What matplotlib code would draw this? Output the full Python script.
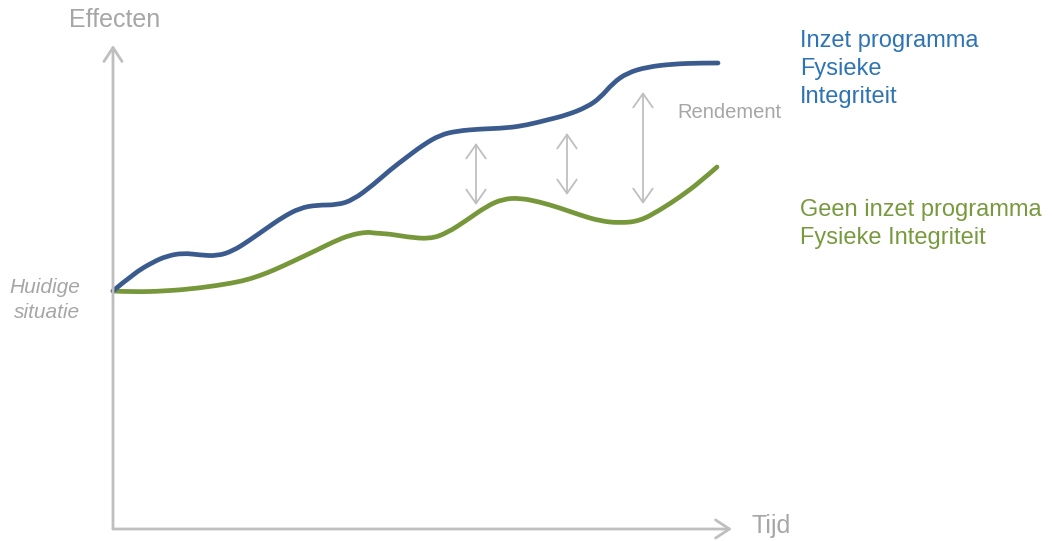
"""Concept chart: effects over time with and without the programme."""

import matplotlib.pyplot as plt
import numpy as np
from matplotlib.path import Path
from matplotlib.patches import PathPatch

plt.rcParams["font.family"] = ["Liberation Sans", "DejaVu Sans"]

# Curve readings (time, effect) from the picture
blue_t = [0, 20, 40, 54, 70, 87, 104, 120, 137, 154, 170, 187, 204, 224,
          240, 260, 277, 294, 310, 327, 344, 367, 394, 414, 434, 454, 474,
          487, 500, 514, 534, 560, 587, 605]
blue_e = [238, 255, 267, 273, 276, 274, 273, 278, 289, 301, 312, 321, 324, 324,
          329, 344, 359, 372, 384, 394, 398, 400, 401, 404, 409, 414, 422,
          431, 446, 456, 462, 465, 466, 466]

green_t = [0, 20, 54, 87, 120, 137, 154, 170, 187, 204, 220, 237, 254, 260,
           277, 294, 317, 334, 354, 374, 390, 407, 427, 447, 467, 487, 507,
           527, 547, 567, 587, 604]
green_e = [238, 237, 238, 241, 246, 250, 256, 263, 271, 279, 287, 294, 297, 296,
           295, 292, 290, 296, 309, 323, 330, 331, 327, 321, 314, 308, 306,
           308, 319, 332, 347, 362]

# "Rendement" gap arrows: time, lower effect, upper effect
gap_t = [363, 454, 530]
gap_low = [324, 334, 325]
gap_high = [386, 396, 437]

AXIS_GREY = "#bfbfbf"
TEXT_GREY = "#a6a6a6"
BLUE_LINE = "#3b5b8e"
GREEN_LINE = "#76973a"
BLUE_TEXT = "#2e74b5"
GREEN_TEXT = "#789a3e"


def smooth_path(xs, ys):
    """Quadratic bezier path through midpoints, using the read points as controls."""
    pts = np.column_stack([xs, ys]).astype(float)
    verts = [pts[0]]
    codes = [Path.MOVETO]
    for i in range(1, len(pts) - 1):
        mid = (pts[i] + pts[i + 1]) / 2
        if i == len(pts) - 2:
            mid = pts[i + 1]
        verts += [pts[i], mid]
        codes += [Path.CURVE3, Path.CURVE3]
    return Path(verts, codes)


fig = plt.figure(figsize=(10.52, 5.41), dpi=100)
ax = fig.add_axes([0, 0, 1, 1])
ax.set_xlim(-113, 939)
ax.set_ylim(-12, 529)
ax.axis("off")

# axes with open arrow heads
axis_style = "->,head_length=1.0,head_width=0.65"
ax.annotate("", xy=(0, 484), xytext=(0, 0),
            arrowprops=dict(arrowstyle=axis_style, color=AXIS_GREY, lw=2,
                            shrinkA=0, shrinkB=0))
ax.annotate("", xy=(619, 0), xytext=(0, 0),
            arrowprops=dict(arrowstyle=axis_style, color=AXIS_GREY, lw=2,
                            shrinkA=0, shrinkB=0))

ax.add_patch(PathPatch(smooth_path(green_t, green_e), facecolor="none",
                       edgecolor=GREEN_LINE, lw=3.4, capstyle="round"))
ax.add_patch(PathPatch(smooth_path(blue_t, blue_e), facecolor="none",
                       edgecolor=BLUE_LINE, lw=3.4, capstyle="round"))

for t, lo, hi in zip(gap_t, gap_low, gap_high):
    ax.annotate("", xy=(t, hi), xytext=(t, lo),
                arrowprops=dict(arrowstyle="<->,head_length=1.0,head_width=0.7",
                                color=AXIS_GREY, lw=1.3, shrinkA=0, shrinkB=0))

ax.text(2, 509, "Effecten", color=TEXT_GREY, fontsize=18,
        ha="center", va="center")
ax.text(639, 3, "Tijd", color=TEXT_GREY, fontsize=18, ha="left", va="center")
ax.text(-33, 229, "Huidige\nsituatie", color=TEXT_GREY, fontsize=15,
        style="italic", ha="right", va="center", linespacing=1.45)
ax.text(564, 416, "Rendement", color=TEXT_GREY, fontsize=14.5,
        ha="left", va="center")

ax.text(687, 460, "Inzet programma\nFysieke\nIntegriteit", color=BLUE_TEXT,
        fontsize=17, ha="left", va="center", linespacing=1.37)
ax.text(687, 305, "Geen inzet programma\nFysieke Integriteit", color=GREEN_TEXT,
        fontsize=17, ha="left", va="center", linespacing=1.37)

fig.savefig("out.png", dpi=100)
